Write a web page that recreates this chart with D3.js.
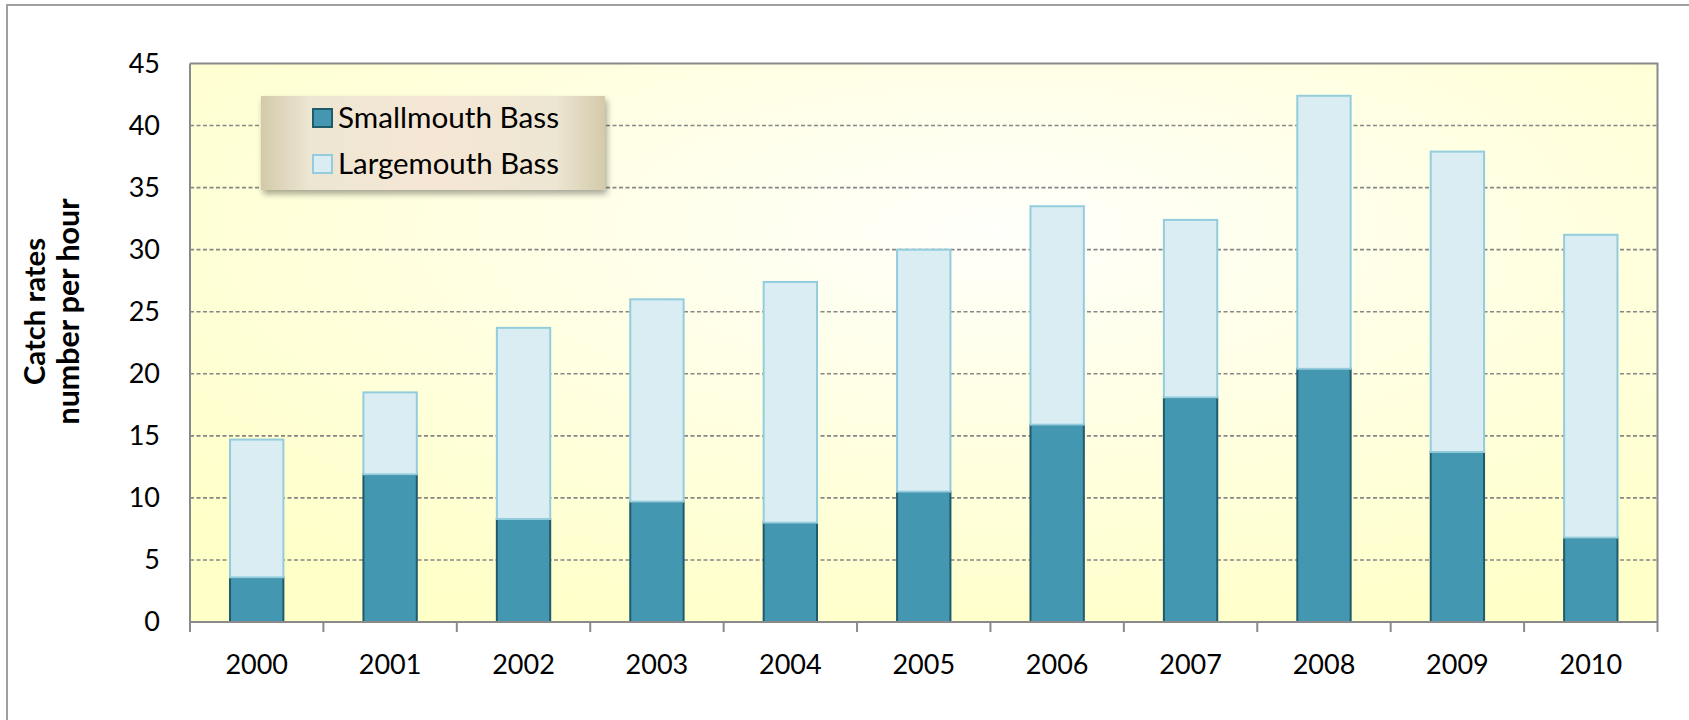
<!DOCTYPE html>
<html>
<head>
<meta charset="utf-8">
<script src="https://cdn.jsdelivr.net/npm/d3@7"></script>
<style>
  html, body { margin: 0; padding: 0; background: #fff; }
  svg { display: block; font-family: Lato, "Open Sans", sans-serif; }
</style>
</head>
<body>
<div id="chart"></div>
<script>
// catch rates (number per hour) by year
const years = ['2000', '2001', '2002', '2003', '2004', '2005', '2006', '2007', '2008', '2009', '2010'];
const smallmouth = [3.6, 11.9, 8.3, 9.7, 8.0, 10.5, 15.9, 18.1, 20.4, 13.7, 6.8];
const largemouth = [11.1, 6.6, 15.4, 16.3, 19.4, 19.5, 17.6, 14.3, 22.0, 24.2, 24.4];
const seriesNames = ['Smallmouth Bass', 'Largemouth Bass'];
const yTicks = [0, 5, 10, 15, 20, 25, 30, 35, 40, 45];

const COLORS = {
  'Smallmouth Bass': { fill: '#4397b0', stroke: '#1f5b6b' },
  'Largemouth Bass': { fill: '#daedf3', stroke: '#93cddd' }
};

const width = 1689, height = 720;
const plot = { left: 190, top: 63.5, right: 1657.5, bottom: 622 };

// shrink/grow a text's font size so it spans the given width (Calibri stand-in)
function fitWidth(sel, target) {
  sel.each(function () {
    const size = parseFloat(this.style.fontSize);
    const w = this.getComputedTextLength();
    if (w > 0) this.style.fontSize = (size * target / w).toFixed(2) + 'px';
  });
}

const svg = d3.select('#chart').append('svg')
  .attr('width', width)
  .attr('height', height);

const defs = svg.append('defs');

const bg = defs.append('radialGradient')
  .attr('id', 'plotBg')
  .attr('cx', '55%').attr('cy', '30%').attr('r', '75%');
bg.append('stop').attr('offset', '0%').attr('stop-color', '#fffffb');
bg.append('stop').attr('offset', '100%').attr('stop-color', '#ffffc8');

const legBg = defs.append('linearGradient')
  .attr('id', 'legendBg')
  .attr('x1', '0%').attr('x2', '100%').attr('y1', '0%').attr('y2', '0%');
[['0%', '#d4caaa'], ['14%', '#ece6d2'], ['50%', '#f6e7d5'], ['86%', '#ece6d2'], ['100%', '#d4caaa']]
  .forEach(([o, c]) => legBg.append('stop').attr('offset', o).attr('stop-color', c));

const shadow = defs.append('filter')
  .attr('id', 'legendShadow')
  .attr('x', '-10%').attr('y', '-10%').attr('width', '125%').attr('height', '140%');
shadow.append('feDropShadow')
  .attr('dx', 2).attr('dy', 4).attr('stdDeviation', 3)
  .attr('flood-color', '#000').attr('flood-opacity', 0.35);

// outer chart border (runs off the right and bottom of the picture)
svg.append('rect')
  .attr('x', 7).attr('y', 5)
  .attr('width', 1720).attr('height', 740)
  .attr('fill', '#fff')
  .attr('stroke', '#a0a0a0')
  .attr('stroke-width', 2);

const x = d3.scaleBand()
  .domain(years)
  .range([plot.left, plot.right])
  .paddingInner(0.6)
  .paddingOuter(0.3);

const y = d3.scaleLinear()
  .domain([0, 45])
  .range([plot.bottom, plot.top]);

// plot area background
svg.append('rect')
  .attr('x', plot.left).attr('y', plot.top)
  .attr('width', plot.right - plot.left)
  .attr('height', plot.bottom - plot.top)
  .attr('fill', 'url(#plotBg)');

// dashed gridlines
svg.append('g')
  .selectAll('line')
  .data(yTicks.filter(t => t > 0 && t < 45))
  .join('line')
  .attr('x1', plot.left).attr('x2', plot.right)
  .attr('y1', d => y(d)).attr('y2', d => y(d))
  .attr('stroke', '#868686')
  .attr('stroke-width', 1.6)
  .attr('stroke-dasharray', '4,2.5');

// stacked columns
const rows = years.map((yr, i) => ({ year: yr, 'Smallmouth Bass': smallmouth[i], 'Largemouth Bass': largemouth[i] }));
const stacked = d3.stack().keys(seriesNames)(rows);

svg.append('g')
  .selectAll('g')
  .data(stacked)
  .join('g')
  .attr('fill', d => COLORS[d.key].fill)
  .attr('stroke', d => COLORS[d.key].stroke)
  .attr('stroke-width', 2)
  .selectAll('rect')
  .data(d => d)
  .join('rect')
  .attr('x', d => x(d.data.year))
  .attr('y', d => y(d[1]))
  .attr('width', x.bandwidth())
  .attr('height', d => y(d[0]) - y(d[1]));

// plot frame (top / right) and left axis line
svg.append('path')
  .attr('d', `M${plot.left},${plot.top}H${plot.right}V${plot.bottom}`)
  .attr('fill', 'none')
  .attr('stroke', '#8a8a8a')
  .attr('stroke-width', 2);

svg.append('line')
  .attr('x1', plot.left).attr('x2', plot.left)
  .attr('y1', plot.top).attr('y2', plot.bottom)
  .attr('stroke', '#8a8a8a').attr('stroke-width', 2);

const xAxis = svg.append('g')
  .attr('transform', `translate(0,${plot.bottom})`)
  .call(d3.axisBottom(x).tickSize(0).tickPadding(33));
xAxis.select('.domain')
  .attr('d', `M${plot.left},0H${plot.right}`)
  .attr('stroke', '#8a8a8a').attr('stroke-width', 2);
xAxis.selectAll('text')
  .attr('fill', '#000')
  .style('font-size', '27px')
  .style('font-family', 'Lato, sans-serif');

// category separator ticks below the axis
const step = x.step();
const boundaries = d3.range(years.length + 1).map(i => plot.left + i * step);
xAxis.append('g')
  .selectAll('line')
  .data(boundaries)
  .join('line')
  .attr('x1', d => d).attr('x2', d => d)
  .attr('y1', 0).attr('y2', 10)
  .attr('stroke', '#8a8a8a').attr('stroke-width', 2);

const yAxis = svg.append('g')
  .attr('transform', `translate(${plot.left},0)`)
  .call(d3.axisLeft(y).tickValues(yTicks).tickSize(0).tickPadding(30));
yAxis.select('.domain').remove();
yAxis.selectAll('text')
  .attr('fill', '#000')
  .style('font-size', '27px')
  .style('font-family', 'Lato, sans-serif');

// y-axis title, two lines
const titleLines = ['Catch rates', 'number per hour'];
const titleX = [45, 79];
const titleLen = [147, 226];
titleLines.forEach((t, i) => {
  svg.append('text')
    .attr('transform', `translate(${titleX[i]},311.5) rotate(-90)`)
    .attr('text-anchor', 'middle')
    .style('font-size', '28px')
    .style('font-weight', '700')
    .attr('fill', '#000')
    .text(t)
    .call(fitWidth, titleLen[i]);
});

// legend
const legend = svg.append('g').attr('transform', 'translate(261,96)');
legend.append('rect')
  .attr('width', 344).attr('height', 94)
  .attr('fill', 'url(#legendBg)')
  .attr('filter', 'url(#legendShadow)');

seriesNames.forEach((name, i) => {
  const row = legend.append('g').attr('transform', `translate(52,${13 + i * 46})`);
  row.append('rect')
    .attr('width', 19).attr('height', 18)
    .attr('fill', COLORS[name].fill)
    .attr('stroke', COLORS[name].stroke)
    .attr('stroke-width', 2);
  row.append('text')
    .attr('x', 25).attr('y', 19)
    .style('font-size', '28px')
    .attr('fill', '#000')
    .text(name)
    .call(fitWidth, 221);
});
</script>
</body>
</html>
